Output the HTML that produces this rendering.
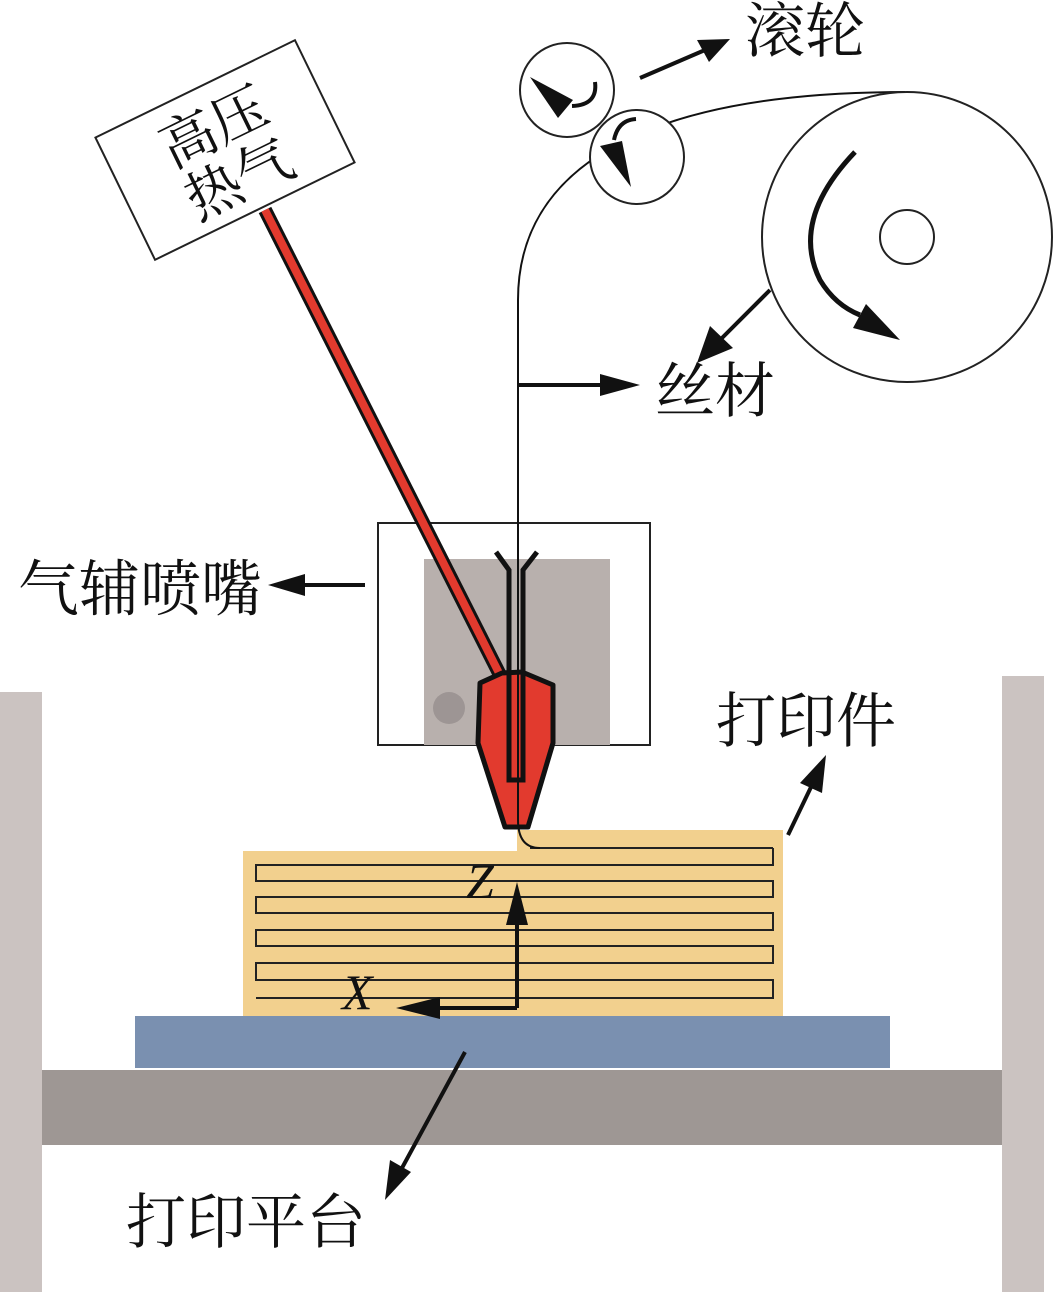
<!DOCTYPE html>
<html><head><meta charset="utf-8"><style>
html,body{margin:0;padding:0;background:#fff;}
svg{display:block;}
text{font-family:"Noto Serif CJK SC","Liberation Serif",serif;fill:#111;}
.lat{font-family:"Liberation Serif",serif;}
</style></head><body>
<svg width="1054" height="1292" viewBox="0 0 1054 1292" xmlns="http://www.w3.org/2000/svg">
<!-- posts -->
<rect x="0" y="692" width="42" height="600" fill="#cbc3c1"/>
<rect x="1002" y="676" width="42" height="616" fill="#cbc3c1"/>
<rect x="42" y="1070" width="960" height="75" fill="#9e9794"/>
<rect x="135" y="1016" width="755" height="52" fill="#7a90b0"/>
<!-- print part -->
<path d="M243,851 H517 V830 H783 V1016 H243 Z" fill="#f2d08e"/>
<path d="M773,848 V865 H256 V881 H773 V897 H256 V913 H773 V930 H256 V946 H773 V963 H256 V980 H773 V998 H256" fill="none" stroke="#222" stroke-width="2"/>
<path d="M530,848 H773" stroke="#222" stroke-width="2"/>
<!-- axes -->
<path d="M517,1008 V915" stroke="#111" stroke-width="4" fill="none"/>
<polygon points="517,882 506,925 528,925" fill="#111"/>
<path d="M517,1008 H440" stroke="#111" stroke-width="4"/>
<polygon points="396,1008 440,997 440,1019" fill="#111"/>
<text class="lat" x="466" y="898" font-size="50" font-style="italic">Z</text>
<text class="lat" x="342" y="1009" font-size="50" font-style="italic">X</text>
<!-- nozzle box -->
<rect x="378" y="523" width="272" height="222" fill="#fff" stroke="#222" stroke-width="2"/>
<rect x="424" y="559" width="186" height="186" fill="#b8b0ad"/>
<circle cx="449" cy="708" r="16" fill="#9d9594"/>
<!-- red rod -->
<line x1="265" y1="210" x2="500" y2="675" stroke="#111" stroke-width="14"/>
<line x1="265" y1="210" x2="500" y2="675" stroke="#e23a2e" stroke-width="8"/>
<polygon points="480,683 502,673 522,672 553,685 553,743 528,827 505,827 478,743" fill="#e23a2e" stroke="#111" stroke-width="5" stroke-linejoin="round"/>
<!-- tube -->
<path d="M496,552 L509,570 V780 H523 V570 L537,552" fill="none" stroke="#111" stroke-width="5"/>
<!-- filament -->
<path d="M518,300 V820 Q518,848 540,848" fill="none" stroke="#111" stroke-width="2"/>
<path d="M518,300 C518,170 640,92 905,92" fill="none" stroke="#111" stroke-width="2"/>
<!-- rollers -->
<circle cx="567" cy="90" r="47" fill="#fff" stroke="#222" stroke-width="2"/>
<circle cx="637" cy="157" r="47" fill="#fff" stroke="#222" stroke-width="2"/>
<path d="M595,82 Q598,105 572,106" fill="none" stroke="#111" stroke-width="4"/>
<polygon points="530,77 573,100 558,118" fill="#111"/>
<path d="M636,119 Q618,120 614,140" fill="none" stroke="#111" stroke-width="4"/>
<polygon points="600,146 622,141 631,187" fill="#111"/>
<!-- spool -->
<circle cx="907" cy="237" r="145" fill="#fff" stroke="#222" stroke-width="2"/>
<circle cx="907" cy="237" r="27" fill="#fff" stroke="#222" stroke-width="2"/>
<path d="M855,152 Q790,220 820,280 Q835,305 860,315" fill="none" stroke="#111" stroke-width="5"/>
<polygon points="900,340 853,328 866,304" fill="#111"/>
<!-- label box -->
<g transform="translate(225,150) rotate(-26)">
<rect x="-111" y="-68" width="222" height="136" fill="#fff" stroke="#222" stroke-width="2"/>
<text x="0" y="-6" font-size="56" text-anchor="middle">高压</text>
<text x="0" y="52" font-size="56" text-anchor="middle">热气</text>
</g>
<!-- callouts -->
<line x1="640" y1="78" x2="705" y2="50" stroke="#111" stroke-width="4"/>
<polygon points="730,39 697,40 709,62" fill="#111"/>
<text x="745" y="52" font-size="60">滚轮</text>
<line x1="518" y1="385" x2="605" y2="385" stroke="#111" stroke-width="4"/>
<polygon points="640,385 600,374 600,396" fill="#111"/>
<text x="655" y="412" font-size="60">丝材</text>
<line x1="770" y1="290" x2="718" y2="342" stroke="#111" stroke-width="4"/>
<polygon points="697,363 710,326 733,348" fill="#111"/>
<line x1="365" y1="585" x2="300" y2="585" stroke="#111" stroke-width="4"/>
<polygon points="268,585 305,574 305,596" fill="#111"/>
<text x="18" y="610" font-size="61">气辅喷嘴</text>
<line x1="788" y1="835" x2="812" y2="785" stroke="#111" stroke-width="4"/>
<polygon points="826,755 800,783 822,793" fill="#111"/>
<text x="716" y="742" font-size="60">打印件</text>
<line x1="465" y1="1052" x2="402" y2="1168" stroke="#111" stroke-width="4"/>
<polygon points="385,1200 390,1160 411,1172" fill="#111"/>
<text x="126" y="1243" font-size="60">打印平台</text>
</svg>
</body></html>
